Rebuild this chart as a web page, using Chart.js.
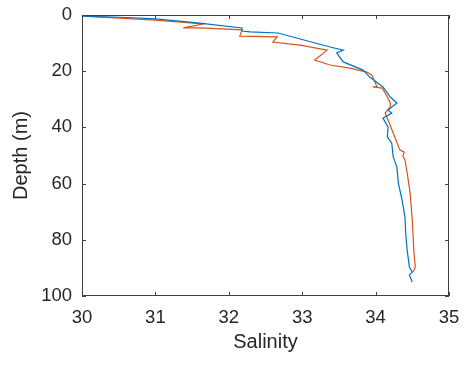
<!DOCTYPE html>
<html>
<head>
<meta charset="utf-8">
<script src="https://cdn.jsdelivr.net/npm/chart.js@4.4.1/dist/chart.umd.min.js"></script>
<style>
  html, body { margin: 0; padding: 0; background: #fff; }
  #wrap { width: 464px; height: 365px; }
</style>
</head>
<body>
<div id="wrap"><canvas id="chart"></canvas></div>
<script>
// profile 1 (blue)
const blueSalinity = [30.0, 30.52, 31.0, 31.57, 32.18, 32.18, 32.29, 32.67, 33.38, 33.56, 33.47, 33.56, 33.83, 33.92, 34.10, 34.20, 34.29, 34.17, 34.22, 34.10, 34.17, 34.16, 34.22, 34.24, 34.29, 34.31, 34.36, 34.40, 34.41, 34.43, 34.46, 34.50, 34.46, 34.50];
const blueDepth    = [0.4, 0.8, 1.4, 2.8, 4.6, 5.7, 6.0, 6.4, 11.4, 12.5, 13.5, 16.7, 19.6, 22.1, 25.6, 29.2, 31.3, 33.8, 34.9, 36.7, 39.9, 43.4, 45.6, 50.5, 54.1, 59.8, 65.8, 71.9, 77.6, 83.6, 89.7, 91.5, 92.5, 95.0];

// profile 2 (orange)
const orangeSalinity = [30.0, 30.52, 31.0, 31.65, 31.38, 31.61, 32.18, 32.15, 32.66, 32.60, 32.97, 33.34, 33.17, 33.38, 33.65, 33.88, 33.95, 34.02, 33.96, 34.09, 34.16, 34.20, 34.20, 34.13, 34.17, 34.24, 34.33, 34.39, 34.37, 34.40, 34.43, 34.47, 34.50, 34.52, 34.54, 34.51];
const orangeDepth    = [0.4, 1.1, 1.8, 3.2, 4.6, 4.6, 5.3, 7.5, 7.8, 9.6, 10.7, 12.5, 16.0, 17.8, 18.9, 20.3, 21.4, 25.6, 25.6, 26.0, 29.2, 31.3, 32.7, 34.9, 37.4, 42.0, 48.0, 48.8, 50.2, 51.6, 56.2, 63.3, 73.0, 83.6, 89.7, 91.5];

const xMin = 30, xMax = 35, xStep = 1;
const yMin = 0, yMax = 100, yStep = 20;

function toPoints(xs, ys) {
    let pts = [];
    for (let i = 0; i < xs.length; i++) {
        pts.push({x: xs[i], y: ys[i]});
    }
    return pts;
}

const axisColor = '#404040';

// box around the axes + inward ticks on all four sides (matlab style)
const boxPlugin = {
    id: 'box',
    afterDraw(chart) {
        const ctx = chart.ctx;
        const a = chart.chartArea;
        const xs = chart.scales.x, ys = chart.scales.y;
        const tl = 4;
        ctx.save();
        ctx.strokeStyle = axisColor;
        ctx.lineWidth = 1;
        ctx.strokeRect(a.left + 0.5, a.top + 0.5, a.right - a.left - 1, a.bottom - a.top - 1);
        ctx.beginPath();
        xs.ticks.forEach((t) => {
            let px = Math.round(xs.getPixelForValue(t.value)) + 0.5;
            ctx.moveTo(px, a.bottom); ctx.lineTo(px, a.bottom - tl);
            ctx.moveTo(px, a.top); ctx.lineTo(px, a.top + tl);
        });
        ys.ticks.forEach((t) => {
            let py = Math.round(ys.getPixelForValue(t.value)) + 0.5;
            ctx.moveTo(a.left, py); ctx.lineTo(a.left + tl, py);
            ctx.moveTo(a.right, py); ctx.lineTo(a.right - tl, py);
        });
        ctx.stroke();
        ctx.restore();
    }
};

const family = '"Liberation Sans", Arial, sans-serif';
const tickFont = {family: family, size: 18.5};
const titleFont = {family: family, size: 20};

new Chart(document.getElementById('chart'), {
    type: 'scatter',
    data: {
        datasets: [
            {
                data: toPoints(blueSalinity, blueDepth),
                showLine: true,
                borderColor: '#0072BD',
                borderWidth: 1.2,
                pointRadius: 0,
                tension: 0
            },
            {
                data: toPoints(orangeSalinity, orangeDepth),
                showLine: true,
                borderColor: '#D95319',
                borderWidth: 1.2,
                pointRadius: 0,
                tension: 0
            }
        ]
    },
    options: {
        responsive: true,
        maintainAspectRatio: false,
        animation: false,
        layout: { padding: {top: 15, right: 15, left: 0, bottom: 0} },
        plugins: { legend: {display: false}, tooltip: {enabled: false} },
        scales: {
            x: {
                type: 'linear',
                min: xMin, max: xMax,
                border: {display: false},
                grid: {display: false, drawTicks: false},
                ticks: {stepSize: xStep, color: '#262626', font: tickFont, padding: 11, maxRotation: 0},
                title: {display: true, text: 'Salinity', color: '#262626',
                        font: titleFont, padding: {top: 0, bottom: 11}},
                afterFit: (scale) => {
                    scale.height = 69;
                    scale.paddingLeft = 0;
                    scale.paddingRight = 0;
                }
            },
            y: {
                type: 'linear',
                min: yMin, max: yMax,
                reverse: true,
                border: {display: false},
                grid: {display: false, drawTicks: false},
                ticks: {stepSize: yStep, color: '#262626', font: tickFont, padding: 10},
                title: {display: true, text: 'Depth (m)', color: '#262626',
                        font: titleFont, padding: {top: 9, bottom: 0}},
                afterFit: (scale) => {
                    scale.width = 82;
                    scale.paddingTop = 0;
                    scale.paddingBottom = 0;
                }
            }
        }
    },
    plugins: [boxPlugin]
});
</script>
</body>
</html>
